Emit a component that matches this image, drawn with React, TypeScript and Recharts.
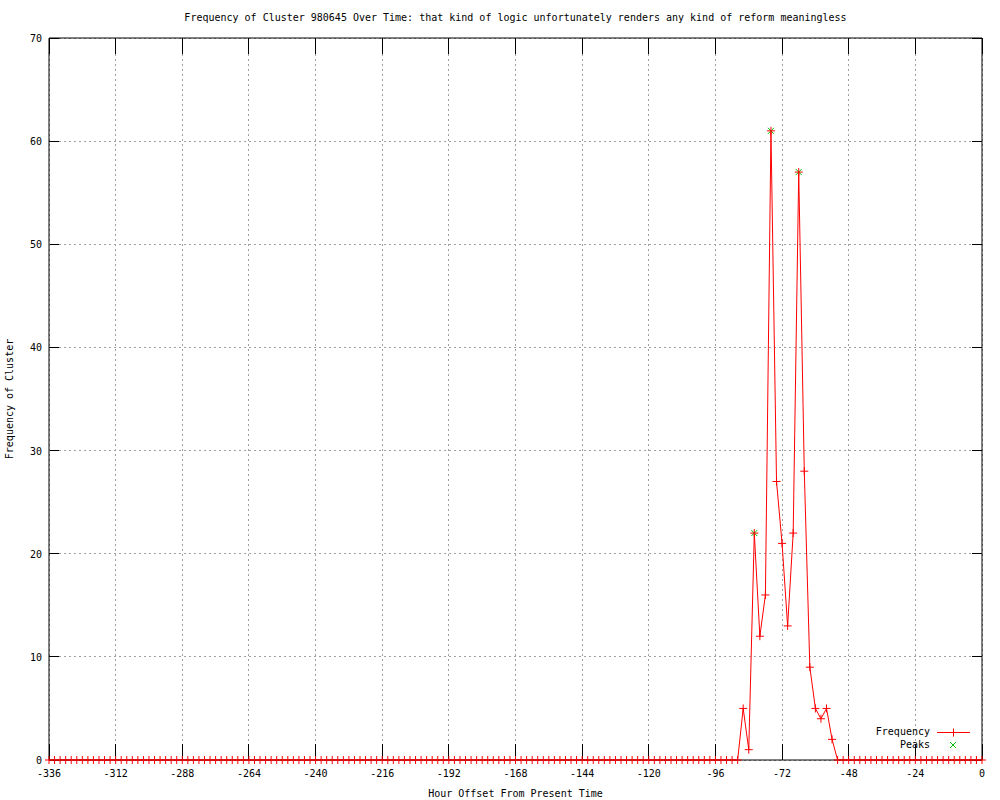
import React from 'react';
import { ComposedChart, Line, Scatter, XAxis, YAxis, CartesianGrid, Legend } from 'recharts';

const hours = [
  -336, -334, -332, -330, -328, -326, -324, -322, -320, -318, -316, -314,
  -312, -310, -308, -306, -304, -302, -300, -298, -296, -294, -292, -290,
  -288, -286, -284, -282, -280, -278, -276, -274, -272, -270, -268, -266,
  -264, -262, -260, -258, -256, -254, -252, -250, -248, -246, -244, -242,
  -240, -238, -236, -234, -232, -230, -228, -226, -224, -222, -220, -218,
  -216, -214, -212, -210, -208, -206, -204, -202, -200, -198, -196, -194,
  -192, -190, -188, -186, -184, -182, -180, -178, -176, -174, -172, -170,
  -168, -166, -164, -162, -160, -158, -156, -154, -152, -150, -148, -146,
  -144, -142, -140, -138, -136, -134, -132, -130, -128, -126, -124, -122,
  -120, -118, -116, -114, -112, -110, -108, -106, -104, -102, -100, -98,
  -96, -94, -92, -90, -88, -86, -84, -82, -80, -78, -76, -74,
  -72, -70, -68, -66, -64, -62, -60, -58, -56, -54, -52, -50,
  -48, -46, -44, -42, -40, -38, -36, -34, -32, -30, -28, -26,
  -24, -22, -20, -18, -16, -14, -12, -10, -8, -6, -4, -2,
  0,
];

const frequency = [
  0, 0, 0, 0, 0, 0, 0, 0, 0, 0, 0, 0,
  0, 0, 0, 0, 0, 0, 0, 0, 0, 0, 0, 0,
  0, 0, 0, 0, 0, 0, 0, 0, 0, 0, 0, 0,
  0, 0, 0, 0, 0, 0, 0, 0, 0, 0, 0, 0,
  0, 0, 0, 0, 0, 0, 0, 0, 0, 0, 0, 0,
  0, 0, 0, 0, 0, 0, 0, 0, 0, 0, 0, 0,
  0, 0, 0, 0, 0, 0, 0, 0, 0, 0, 0, 0,
  0, 0, 0, 0, 0, 0, 0, 0, 0, 0, 0, 0,
  0, 0, 0, 0, 0, 0, 0, 0, 0, 0, 0, 0,
  0, 0, 0, 0, 0, 0, 0, 0, 0, 0, 0, 0,
  0, 0, 0, 0, 0, 5, 1, 22, 12, 16, 61, 27,
  21, 13, 22, 57, 28, 9, 5, 4, 5, 2, 0, 0,
  0, 0, 0, 0, 0, 0, 0, 0, 0, 0, 0, 0,
  0, 0, 0, 0, 0, 0, 0, 0, 0, 0, 0, 0,
  0,
];

const peakHours = [-82, -76, -66];
const peakValues = [22, 61, 57];

const xTicks = [-336, -312, -288, -264, -240, -216, -192, -168, -144, -120, -96, -72, -48, -24, 0];
const yTicks = [0, 10, 20, 30, 40, 50, 60, 70];

const title = 'Frequency of Cluster 980645 Over Time: that kind of logic unfortunately renders any kind of reform meaningless';

const font = "'DejaVu Sans Mono', monospace";

const freqData = hours.map((h, i) => ({ hour: h, freq: frequency[i] }));
const peakData = peakHours.map((h, i) => ({ hour: h, peak: peakValues[i] }));

const PlusDot = (props: any) => {
  const { cx, cy, index } = props;
  if (cx == null || cy == null) return null;
  return (
    <path
      key={'p' + index}
      d={`M${cx - 4},${cy}H${cx + 4}M${cx},${cy - 4}V${cy + 4}`}
      stroke="#ff0000"
      strokeWidth={1}
      fill="none"
    />
  );
};

const CrossShape = (props: any) => {
  const { cx, cy } = props;
  return (
    <path
      d={`M${cx - 3},${cy - 3}L${cx + 3},${cy + 3}M${cx - 3},${cy + 3}L${cx + 3},${cy - 3}`}
      stroke="#00c000"
      strokeWidth={1}
      fill="none"
    />
  );
};

// each grid line: dotted middle part plus solid inward tick marks at both ends
const VGridLine = (props: any) => {
  const { x1, y1, y2, index } = props;
  const top = Math.min(y1, y2);
  const bot = Math.max(y1, y2);
  return (
    <g key={'v' + index} shapeRendering="crispEdges">
      <line x1={x1} x2={x1} y1={top + 16} y2={bot - 16} stroke="#a0a0a0" strokeDasharray="2 3" />
      <line x1={x1} x2={x1} y1={top} y2={top + 16} stroke="#000" />
      <line x1={x1} x2={x1} y1={bot - 16} y2={bot} stroke="#000" />
    </g>
  );
};

const HGridLine = (props: any) => {
  const { x1, x2, y1, index } = props;
  const left = Math.min(x1, x2);
  const right = Math.max(x1, x2);
  return (
    <g key={'h' + index} shapeRendering="crispEdges">
      <line x1={left + 10} x2={right - 10} y1={y1} y2={y1} stroke="#a0a0a0" strokeDasharray="2 3" />
      <line x1={left} x2={left + 10} y1={y1} y2={y1} stroke="#000" />
      <line x1={right - 10} x2={right} y1={y1} y2={y1} stroke="#000" />
    </g>
  );
};

const BottomLabel = (props: any) => {
  const { x, y, payload } = props;
  return (
    <text x={x} y={y + 17} textAnchor="middle" fontSize={10} fontFamily={font} fill="#000">
      {payload.value}
    </text>
  );
};

const LeftLabel = (props: any) => {
  const { x, y, payload } = props;
  return (
    <text x={x - 7} y={y + 4} textAnchor="end" fontSize={10} fontFamily={font} fill="#000">
      {payload.value}
    </text>
  );
};

const NoLabel = () => <g />;

const LegendBox = () => (
  <svg width={120} height={30} style={{ fontFamily: font, fontSize: 10 }}>
    <text x={70} y={10} textAnchor="end" fill="#000">Frequency</text>
    <line x1={77} y1={7.5} x2={110} y2={7.5} stroke="#ff0000" />
    <path d="M93.5,3.5V11.5" stroke="#ff0000" />
    <text x={70} y={23} textAnchor="end" fill="#000">Peaks</text>
    <path d="M90,17L96,23M90,23L96,17" stroke="#00c000" />
  </svg>
);

export default function App() {
  return (
    <div style={{ position: 'absolute', left: 0, top: 0, width: 1000, height: 800, background: '#fff' }}>
      <div
        style={{
          position: 'absolute',
          left: 49,
          width: 933,
          top: 12,
          textAlign: 'center',
          fontFamily: font,
          fontSize: 10,
          color: '#000',
        }}
      >
        {title}
      </div>
      <ComposedChart width={1000} height={800} margin={{ top: 0, right: 0, bottom: 0, left: 0 }}>
        <CartesianGrid xAxisId="bottom" yAxisId="left" vertical={VGridLine} horizontal={HGridLine} />
        <XAxis
          xAxisId="bottom"
          dataKey="hour"
          type="number"
          domain={[-336, 0]}
          ticks={xTicks}
          height={40}
          stroke="#000"
          tickLine={false}
          tickSize={0}
          tickMargin={0}
          tick={<BottomLabel />}
          interval={0}
          allowDuplicatedCategory={false}
          label={{ value: 'Hour Offset From Present Time', position: 'insideBottom', offset: 3, style: { fontFamily: font, fontSize: 10, fill: '#000' } }}
        />
        <XAxis
          xAxisId="top"
          orientation="top"
          type="number"
          domain={[-336, 0]}
          ticks={xTicks}
          height={38}
          stroke="#000"
          tickLine={false}
          tick={<NoLabel />}
          interval={0}
        />
        <YAxis
          yAxisId="left"
          type="number"
          domain={[0, 70]}
          ticks={yTicks}
          width={49}
          stroke="#000"
          tickLine={false}
          tickSize={0}
          tickMargin={0}
          tick={<LeftLabel />}
          interval={0}
          label={{ value: 'Frequency of Cluster', angle: -90, position: 'insideLeft', offset: 9, style: { fontFamily: font, fontSize: 10, fill: '#000', textAnchor: 'middle' } }}
        />
        <YAxis
          yAxisId="right"
          orientation="right"
          type="number"
          domain={[0, 70]}
          ticks={yTicks}
          width={18}
          stroke="#000"
          tickLine={false}
          tick={<NoLabel />}
          interval={0}
        />
        <Legend
          layout="horizontal"
          verticalAlign="middle"
          align="center"
          wrapperStyle={{ position: 'absolute', left: 860, top: 725, width: 120, height: 30 }}
          content={<LegendBox />}
        />
        <Line
          xAxisId="bottom"
          yAxisId="left"
          data={freqData}
          dataKey="freq"
          name="Frequency"
          type="linear"
          stroke="#ff0000"
          strokeWidth={1}
          dot={PlusDot}
          activeDot={false}
          isAnimationActive={false}
        />
        <Scatter
          xAxisId="bottom"
          yAxisId="left"
          data={peakData}
          dataKey="peak"
          name="Peaks"
          shape={CrossShape}
          isAnimationActive={false}
        />
      </ComposedChart>
    </div>
  );
}
